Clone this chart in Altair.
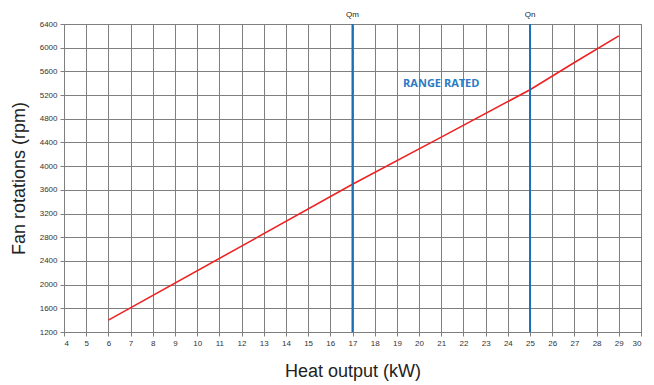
import altair as alt
import pandas as pd

# Data
heat_kw = [6, 12, 17, 21, 25, 27, 29]
fan_rpm = [1400, 2650, 3695, 4490, 5290, 5750, 6200]

marker_x = [17, 25]
marker_lbl = ["Qm", "Qn"]

range_x = [21]
range_y = [5390]
range_lbl = ["RANGE RATED"]

x_ticks = list(range(4, 31))
y_ticks = list(range(1200, 6401, 400))

line_df = pd.DataFrame({"x": heat_kw, "y": fan_rpm})
mark_df = pd.DataFrame({"x": marker_x, "lbl": marker_lbl, "y0": [1200] * 2, "y1": [6400] * 2})
range_df = pd.DataFrame({"x": range_x, "y": range_y, "lbl": range_lbl})

xs = alt.Scale(domain=[4, 30], nice=False)
ys = alt.Scale(domain=[1200, 6400], nice=False)

common = dict(grid=True, gridColor="#7f7f7f", gridOpacity=1, domainColor="#7f7f7f",
              tickColor="#7f7f7f", tickSize=4, labelFont="Liberation Sans", labelFontSize=8,
              labelColor="#333333", labelPadding=3, labelOverlap=False, format="d",
              titleFont="Liberation Sans", titleFontSize=18, titleFontWeight="normal",
              titleColor="#222222")

x_axis = alt.Axis(values=x_ticks, tickCount=60, title="Heat output (kW)", titlePadding=15, **common)
y_axis = alt.Axis(values=y_ticks, tickCount=40, title="Fan rotations (rpm)", titlePadding=11, **common)


def X(field):
    return alt.X(field, type="quantitative", scale=xs, axis=x_axis)


def Y(field):
    return alt.Y(field, type="quantitative", scale=ys, axis=y_axis)


base_line = alt.Chart(line_df).mark_line(color="#ee2222", strokeWidth=1.6).encode(
    x=X("x"), y=Y("y"),
)

vlines = alt.Chart(mark_df).mark_rule(color="#1a6fb5", strokeWidth=2).encode(
    x=X("x"), y=Y("y0"), y2="y1:Q"
)

vlabels = alt.Chart(mark_df).mark_text(font="Liberation Sans", fontSize=8, color="#222222",
                                       baseline="bottom", dy=-5).encode(
    x=X("x"), y=Y("y1"), text="lbl:N"
)

range_text = alt.Chart(range_df).mark_text(font="Open Sans", fontSize=11, fontWeight="bold",
                                           color="#2a7bc4").encode(
    x=X("x"), y=Y("y"), text="lbl:N"
)

chart = alt.layer(base_line, vlines, vlabels, range_text).properties(
    width=577, height=308,
    autosize=alt.AutoSizeParams(type="none"),
    padding={"left": 56, "top": 16, "right": 5, "bottom": 52},
).configure_view(stroke="#7f7f7f")

chart.save("out.html", embed_options={"renderer": "svg", "actions": False})
